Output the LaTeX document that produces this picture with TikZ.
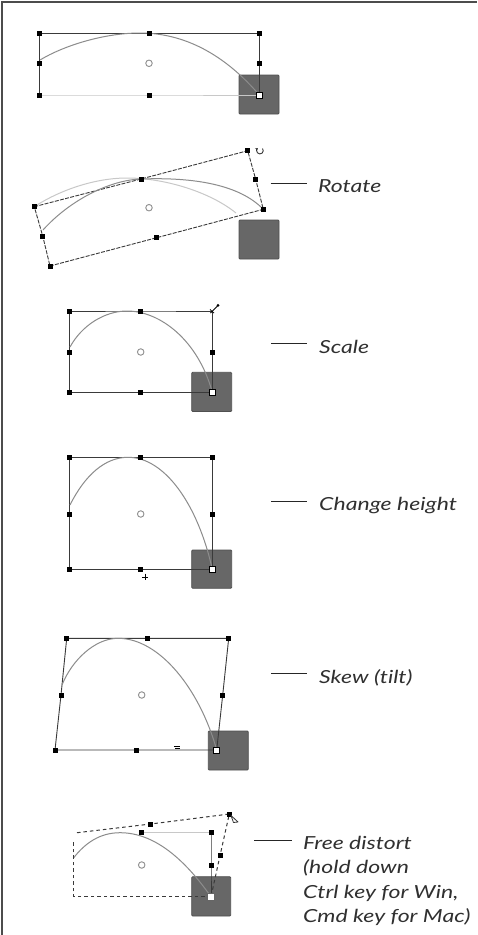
\documentclass[tikz,border=0pt]{standalone}
\usepackage{fontspec}
\newfontfamily\labfont{Lato}[Ligatures=NoCommon,FakeStretch=1.28]
\usetikzlibrary{arrows.meta}
\definecolor{sqfill}{HTML}{676767}
\definecolor{sqedge}{HTML}{505050}
\definecolor{edgec}{HTML}{3A3A3A}
\definecolor{arcc}{HTML}{8C8C8C}
\definecolor{lightc}{HTML}{C8C8C8}
\definecolor{txtc}{HTML}{303030}
\tikzset{
  handle/.style={rectangle,fill=black,inner sep=0pt,minimum size=5pt},
  hollow/.style={rectangle,draw=black,fill=white,line width=0.8pt,inner sep=0pt,minimum size=6pt},
  ctr/.style={circle,draw=arcc,fill=white,line width=0.9pt,inner sep=0pt,minimum size=6.5pt},
  darksq/.style={fill=sqfill,draw=sqedge,line width=0.8pt,rounded corners=1pt},
  edge/.style={draw=edgec,line width=0.9pt},
  dedge/.style={draw=edgec,line width=0.9pt,dash pattern=on 4pt off 1.3pt},
  ddist/.style={draw=edgec,line width=1pt,dash pattern=on 3.5pt off 3pt},
  arcline/.style={draw=arcc,line width=1pt},
  lightline/.style={draw=lightc,line width=1pt},
  leader/.style={draw=black!85,line width=1pt},
  lab/.style={font={\labfont\itshape\fontsize{18}{24.5}\selectfont},text=txtc,inner sep=0pt},
}
\begin{document}
\begin{tikzpicture}[x=1pt,y=-1pt]
\useasboundingbox (0,0) rectangle (477,935);
\fill[white] (0,0) rectangle (477,935);
% frame
\draw[draw=black!70,line width=2pt] (1.5,935) -- (1.5,1.5) -- (477,1.5);

% ===== Panel 1 =====
\draw[darksq] (239,75) rectangle (279,114);
\node[handle] (a1) at (39.3,33.3) {};
\node[handle] (a2) at (149,33.3) {};
\node[handle] (a3) at (259.3,33.3) {};
\node[handle] (a4) at (39.3,63.3) {};
\node[handle] (a5) at (259.3,63.3) {};
\node[handle] (a6) at (39.3,95) {};
\node[handle] (a7) at (149,95) {};
\node[hollow] (a8) at (259.3,95) {};
\node[ctr] (ac) at (149,63.3) {};
\draw[lightline] (a6.center) -- (a7.center) -- (a8.center);
\draw[edge] (a1.center) -- (a2.center) -- (a3.center) -- (a5.center) -- (a8.center);
\draw[edge] (a1.center) -- (a4.center) -- (a6.center);
\draw[arcline] (40,60) .. controls (65,45) and (105,33) .. (140,33) .. controls (185,33) and (225,55) .. (a8.center);
\foreach \n in {a1,a2,a3,a4,a5,a6,a7}{\node[handle] at (\n) {};}
\node[hollow] at (a8) {};

% ===== Panel 2 (rotate) =====
\draw[darksq] (239,220) rectangle (279,259);
\coordinate (b1) at (34.3,206.7);
\coordinate (b2) at (141,179);
\coordinate (b3) at (247.7,150.7);
\coordinate (b4) at (255.7,179.3);
\coordinate (b5) at (263.3,209.3);
\coordinate (b6) at (156.7,237.7);
\coordinate (b7) at (50,266);
\coordinate (b8) at (42.7,236);
\draw[lightline] (b1) .. controls (60,190) and (95,178) .. (127,178) .. controls (165,178) and (210,192) .. (236,213);
\draw[dedge] (b1) -- (b2) -- (b3) -- (b4) -- (b5) -- (b6) -- (b7) -- (b8) -- cycle;
\draw[arcline] (43,230) .. controls (70,200) and (110,180) .. (b2) .. controls (195,177) and (240,185) .. (b5);
\foreach \n in {b1,b2,b3,b4,b5,b6,b7,b8}{\node[handle] at (\n) {};}
\node[ctr] (bc) at (149,207.7) {};
\draw[black!80,line width=0.9pt,-{Stealth[length=2.5pt,width=3pt]}] (262.5,148.5) arc[start angle=-40,end angle=230,radius=3.3];
\coordinate (r1) at (270.7,183.3);
\coordinate (r2) at (307.3,183.3);
\draw[leader] (r1) -- (r2);
\node[lab,anchor=base west] (tr) at (318,192.5) {Rotate};

% ===== Panel 3 (scale) =====
\draw[darksq] (191.7,372.3) rectangle (231.7,411.5);
\node[handle] (c1) at (69.3,311) {};
\node[handle] (c2) at (140.7,311) {};
\coordinate (c3) at (212.3,311);
\node[handle] (c4) at (69.3,352) {};
\node[handle] (c5) at (212.3,352) {};
\node[handle] (c6) at (69.3,392.3) {};
\node[handle] (c7) at (140.7,392.3) {};
\node[hollow] (c8) at (212.3,392.3) {};
\node[ctr] (cc) at (140.7,352) {};
\draw[edge] (c1.center) -- (c2.center) -- (c3) -- (c5.center) -- (c8.center) -- (c7.center) -- (c6.center) -- (c4.center) -- cycle;
\draw[arcline] (70,347) .. controls (82,325) and (105,311) .. (127,311) .. controls (160,311) and (198,340) .. (c8.center);
\foreach \n in {c1,c2,c4,c5,c6,c7}{\node[handle] at (\n) {};}
\node[hollow] at (c8) {};
\draw[black,line width=0.9pt] (210.5,313) -- (217.5,306);
\fill[black] (218,305.3) circle (1.5pt);
\draw[black,line width=0.8pt] (210,309.5) -- (214,313);
\coordinate (s1) at (271,343.3);
\coordinate (s2) at (307.3,343.3);
\draw[leader] (s1) -- (s2);
\node[lab,anchor=base west] (ts) at (319,353) {Scale};

% ===== Panel 4 (change height) =====
\draw[darksq] (191.7,550) rectangle (231.7,588.3);
\node[handle] (d1) at (69.3,457.3) {};
\node[handle] (d2) at (140.7,457.3) {};
\node[handle] (d3) at (212.3,457.3) {};
\node[handle] (d4) at (69.3,514) {};
\node[handle] (d5) at (212.3,514) {};
\node[handle] (d6) at (69.3,569.3) {};
\node[handle] (d7) at (140.7,569.3) {};
\node[hollow] (d8) at (212.3,569.3) {};
\node[ctr] (dc) at (140.7,514) {};
\draw[edge] (d1.center) -- (d2.center) -- (d3.center) -- (d5.center) -- (d8.center) -- (d7.center) -- (d6.center) -- (d4.center) -- cycle;
\draw[arcline] (70,505) .. controls (85,475) and (105,457.3) .. (128,457.3) .. controls (165,457.3) and (198,505) .. (d8.center);
\foreach \n in {d1,d2,d3,d4,d5,d6,d7}{\node[handle] at (\n) {};}
\node[hollow] at (d8) {};
\draw[black,line width=0.9pt] (145,573.5) -- (145,580) (142,577) -- (148,577);
\coordinate (h1) at (271,501.7);
\coordinate (h2) at (307.3,501.7);
\draw[leader] (h1) -- (h2);
\node[lab,anchor=base west] (th) at (319,510.5) {Change height};

% ===== Panel 5 (skew) =====
\draw[darksq] (208.3,731) rectangle (248.3,770);
\node[handle] (e1) at (66.7,638.3) {};
\node[handle] (e2) at (147.7,638.3) {};
\node[handle] (e3) at (228.7,638.3) {};
\node[handle] (e4) at (61,695) {};
\node[handle] (e5) at (222.7,695) {};
\node[handle] (e6) at (55,750) {};
\node[handle] (e7) at (136,750) {};
\node[hollow] (e8) at (216.7,750) {};
\node[ctr] (ec) at (141.7,695) {};
\draw[edge] (e1.center) -- (e2.center) -- (e3.center) -- (e5.center) -- (e8.center) -- (e7.center) -- (e6.center) -- (e4.center) -- cycle;
\draw[arcline] (62,685) .. controls (72,660) and (95,638.3) .. (118,638.3) .. controls (160,638.3) and (200,690) .. (e8.center);
\foreach \n in {e1,e2,e3,e4,e5,e6,e7}{\node[handle] at (\n) {};}
\node[hollow] at (e8) {};
\draw[black,line width=0.8pt] (174,746) -- (179.5,746) (175,748.5) -- (180,748.5);
\coordinate (k1) at (271,673.5);
\coordinate (k2) at (307.3,673.5);
\draw[leader] (k1) -- (k2);
\node[lab,anchor=base west] (tk) at (319,683) {Skew (tilt)};

% ===== Panel 6 (free distort) =====
\draw[darksq] (191.7,876.7) rectangle (230.7,916);
\coordinate (f0) at (77,832.7);
\node[handle] (f1) at (141.7,832.7) {};
\node[handle] (f2) at (211,832.7) {};
\node[handle] (f3) at (211,865) {};
\node[handle] (g1) at (150.7,824) {};
\node[handle] (g2) at (229.3,814) {};
\node[handle] (g3) at (220,855.7) {};
\node[rectangle,draw=black!60,fill=white,line width=0.5pt,inner sep=0pt,minimum size=7pt] (g4) at (211,896.7) {};
\coordinate (g5) at (73.3,896.7);
\coordinate (g6) at (73.3,840);
\node[ctr] (fc) at (141.7,865) {};
\draw[lightline] (f1.center) -- (f2.center);
\draw[edge] (f2.center) -- (f3.center) -- (g4.center);
\draw[arcline] (73.3,858.3) .. controls (85,843) and (100,832.7) .. (120,832.7) .. controls (155,832.7) and (185,860) .. (g4.center);
\draw[ddist] (f0) -- (g1.center) -- (g2.center) -- (g3.center) -- (g4.center);
\draw[ddist] (g4.center) -- (g5) -- (g6);
\foreach \n in {f1,f2,f3,g1,g2,g3}{\node[handle] at (\n) {};}
\node[rectangle,draw=black!60,fill=white,line width=0.5pt,inner sep=0pt,minimum size=7pt] at (g4) {};
\draw[black!80,line width=0.8pt,fill=white,line join=round] (231,815.5) -- (238,822) -- (233.5,822.5) -- cycle;
\coordinate (q1) at (254,840);
\coordinate (q2) at (291.7,840);
\draw[leader] (q1) -- (q2);
\node[lab,anchor=base west] (tq) at (303,849.3) {Free distort};
\node[lab,anchor=base west] (tq2) at (303,873.8) {(hold down};
\node[lab,anchor=base west] (tq3) at (303,898.3) {Ctrl key for Win,};
\node[lab,anchor=base west] (tq4) at (303,922.3) {Cmd key for Mac)};
\end{tikzpicture}
\end{document}
